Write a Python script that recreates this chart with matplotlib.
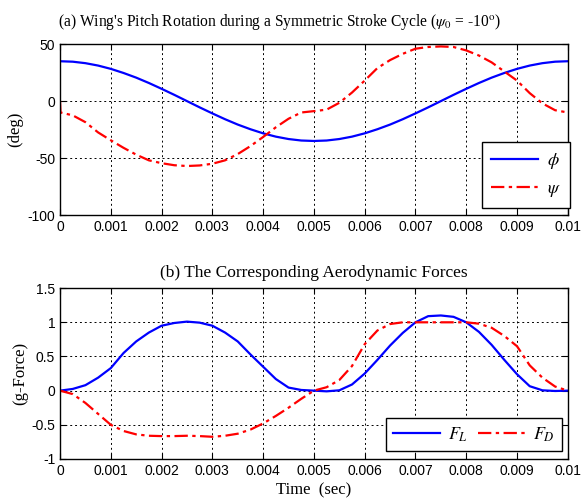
import numpy as np
import matplotlib.pyplot as plt

# time samples (sec)
t = [0.0, 0.00025, 0.0005, 0.00075, 0.001, 0.00125, 0.0015, 0.00175, 0.002, 0.00225,
     0.0025, 0.00275, 0.003, 0.00325, 0.0035, 0.00375, 0.004, 0.00425, 0.0045, 0.00475,
     0.005, 0.00525, 0.0055, 0.00575, 0.006, 0.00625, 0.0065, 0.00675, 0.007, 0.00725,
     0.0075, 0.00775, 0.008, 0.00825, 0.0085, 0.00875, 0.009, 0.00925, 0.0095, 0.00975, 0.01]

# stroke angle phi (deg)
phi = [35, 34.6, 33.3, 31.2, 28.3, 24.7, 20.6, 15.9, 10.8, 5.5,
       0, -5.5, -10.8, -15.9, -20.6, -24.7, -28.3, -31.2, -33.3, -34.6,
       -35, -34.6, -33.3, -31.2, -28.3, -24.7, -20.6, -15.9, -10.8, -5.5,
       0, 5.5, 10.8, 15.9, 20.6, 24.7, 28.3, 31.2, 33.3, 34.6, 35]

# pitch angle psi (deg); starts with a jump from 0 to psi0 = -10
t_psi = [0.0, 0.00001] + t[1:]
psi = [0, -10,
       -12.5, -18.5, -27.5, -34.4, -41, -47, -52, -54.5, -56.3,
       -57, -56.5, -55, -52, -46.5, -39.5, -31.5, -23, -15.5, -10,
       -8.8, -7.5, -1.5, 7.5, 18, 29, 36, 41.5, 46, 47.5,
       48, 47.5, 44.5, 40, 34, 26, 18, 7, -2, -8, -10]

# aerodynamic forces (g)
F_L = [0, 0.025, 0.08, 0.19, 0.33, 0.55, 0.72, 0.85, 0.95, 0.99,
       1.01, 0.995, 0.95, 0.85, 0.72, 0.53, 0.35, 0.17, 0.045, 0.01,
       0, -0.01, 0.005, 0.09, 0.25, 0.45, 0.66, 0.845, 1.0, 1.09,
       1.10, 1.08, 1.0, 0.86, 0.67, 0.45, 0.24, 0.065, 0.005, -0.005, 0]
F_D = [0, -0.05, -0.18, -0.34, -0.50, -0.59, -0.64, -0.66, -0.665, -0.665,
       -0.66, -0.665, -0.675, -0.66, -0.63, -0.57, -0.48, -0.37, -0.25, -0.12,
       0, 0.05, 0.155, 0.36, 0.68, 0.88, 0.975, 1.0, 1.0, 1.0,
       1.0, 1.0, 1.0, 0.98, 0.92, 0.80, 0.65, 0.37, 0.19, 0.06, 0]

xticks = [0, 0.001, 0.002, 0.003, 0.004, 0.005, 0.006, 0.007, 0.008, 0.009, 0.01]
xlabels = ['0', '0.001', '0.002', '0.003', '0.004', '0.005', '0.006', '0.007', '0.008', '0.009', '0.01']

serif = 'Liberation Serif'
plt.rcParams['font.family'] = 'Liberation Sans'
plt.rcParams['mathtext.fontset'] = 'stix'
plt.rcParams['axes.unicode_minus'] = False

fig = plt.figure(figsize=(5.85, 5.04), dpi=100)
ax1 = fig.add_axes([0.1026, 0.5734, 0.868, 0.339])
ax2 = fig.add_axes([0.1026, 0.0893, 0.868, 0.339])

dashdot = (0, (6, 2, 1.5, 2))

ax1.plot(t, phi, color='#0000ff', lw=1.6, label=r'$\phi$')
ax1.plot(t_psi, psi, color='#ff0000', lw=1.6, linestyle=dashdot, label=r'$\psi$')
ax1.set_ylim(-100, 50)
ax1.set_yticks([-100, -50, 0, 50])
ax1.set_ylabel('(deg)', family=serif, fontsize=12, labelpad=3)
ax1.set_title("(a) Wing's Pitch Rotation during a Symmetric Stroke Cycle ($\\psi_0$ = -10$^{\\rm o}$)",
              family=serif, fontsize=11.2, pad=13, x=0.433)
ax1.legend(loc='lower right', bbox_to_anchor=(1.004, 0.04), borderaxespad=0,
           fontsize=13, handlelength=2.6, handletextpad=0.5, borderpad=0.5,
           fancybox=False, edgecolor='black', framealpha=1)

ax2.plot(t, F_L, color='#0000ff', lw=1.6, label=r'$F_L$')
ax2.plot(t, F_D, color='#ff0000', lw=1.6, linestyle=dashdot, label=r'$F_D$')
ax2.set_ylim(-1, 1.5)
ax2.set_yticks([-1, -0.5, 0, 0.5, 1, 1.5])
ax2.set_yticklabels(['-1', '-0.5', '0', '0.5', '1', '1.5'])
ax2.set_ylabel('(g-Force)', family=serif, fontsize=12, labelpad=2)
ax2.set_xlabel('Time  (sec)', family=serif, fontsize=12, labelpad=3)
ax2.set_title('(b) The Corresponding Aerodynamic Forces', family=serif, fontsize=12.5, pad=8)
ax2.legend(loc='lower right', bbox_to_anchor=(0.988, 0.047), borderaxespad=0, ncol=2,
           fontsize=13, handlelength=2.6, handletextpad=0.4, columnspacing=0.6, borderpad=0.4,
           fancybox=False, edgecolor='black', framealpha=1)

for ax in (ax1, ax2):
    ax.set_xlim(0, 0.01)
    ax.set_xticks(xticks)
    ax.set_xticklabels(xlabels)
    ax.grid(True, color='black', linestyle=(0, (2, 3)), lw=0.7)
    ax.tick_params(direction='in', top=True, right=True, labelsize=10, length=4)
    for s in ax.spines.values():
        s.set_linewidth(1.0)

fig.savefig('out.png', dpi=100)
